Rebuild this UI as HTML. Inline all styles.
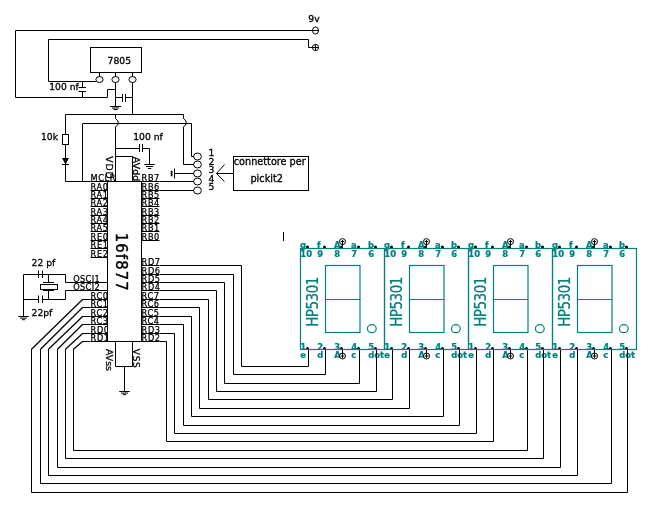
<!DOCTYPE html>
<html><head><meta charset="utf-8"><title>schema 16f877</title>
<style>
html,body{margin:0;padding:0;background:#fff}
svg{display:block;will-change:transform}
.w{fill:none;stroke:#000;stroke-width:1}
.d{stroke-width:1.25}
.wf{fill:#fff;stroke:#000;stroke-width:1}
.k{fill:#000;stroke:none}
.g{fill:none;stroke:#008080;stroke-width:1.2}
.t{font-family:"DejaVu Sans","Liberation Sans",sans-serif;font-size:9.2px;fill:#000;stroke:#000;stroke-width:.3px}
.p{font-size:8.2px;stroke-width:.25px;letter-spacing:.6px}
.gt{font-family:"DejaVu Sans","Liberation Sans",sans-serif;fill:#008080}
.gb{font-family:"DejaVu Sans Condensed","DejaVu Sans","Liberation Sans",sans-serif;font-size:9.4px;font-weight:bold;fill:#008080;stroke:#008080;stroke-width:.2px}
.c{font-family:"DejaVu Sans Condensed","DejaVu Sans","Liberation Sans",sans-serif;font-stretch:condensed}
</style></head><body>
<svg width="652" height="508" viewBox="0 0 652 508">
<rect x="0" y="0" width="652" height="508" fill="#fff"/>
<path class="w" d="M319 30.5 L15.5 30.5 L15.5 97.5 L107.5 97.5 L107.5 89.5 L115.5 89.5"/>
<ellipse class="w" cx="315.5" cy="30.5" rx="3" ry="3.6"/>
<path class="w" d="M318.5 47.5 L308.5 47.5 L308.5 39.5 L48.5 39.5 L48.5 81.5 L96 81.5"/>
<circle class="w" cx="315.5" cy="47.5" r="3.1"/>
<path class="w" d="M315.5 44.5 L315.5 50.5"/>
<text class="t" x="308.3" y="21.5">9v</text>
<rect class="w" x="90.5" y="47.5" width="51" height="25"/>
<text class="t" x="107.6" y="63.5">7805</text>
<path class="w" d="M99.5 72.5 L99.5 76.5"/>
<ellipse class="w" cx="99.5" cy="79.5" rx="3.6" ry="3"/>
<path class="w" d="M115.5 72.5 L115.5 76.5"/>
<ellipse class="w" cx="115.5" cy="79.5" rx="3.6" ry="3"/>
<path class="w" d="M132.5 72.5 L132.5 76.5"/>
<ellipse class="w" cx="132.5" cy="79.5" rx="3.6" ry="3"/>
<path class="w" d="M82.5 81.5 L82.5 87.5"/>
<path class="w" d="M78.5 87.5 L86 87.5"/>
<path class="w" d="M78.5 91.5 L86 91.5"/>
<path class="w" d="M82.5 91.5 L82.5 97.5"/>
<text class="t" x="49.2" y="89.9">100 nf</text>
<path class="w" d="M115.5 82.5 L115.5 106.5"/>
<path class="w" d="M110 106.5 L121 106.5"/>
<path class="w" d="M112 108 L119 108"/>
<path class="w" d="M113.5 109.5 L117.5 109.5"/>
<path class="w" d="M132.5 82.5 L132.5 114.5"/>
<path class="w" d="M115.5 97.5 L122.5 97.5"/>
<path class="w" d="M122.5 94 L122.5 102"/>
<path class="w" d="M125.5 94 L125.5 102"/>
<path class="w" d="M125.5 97.5 L132.5 97.5"/>
<path class="w" d="M90.5 181.5 L65.5 181.5 L65.5 114.5 L183.5 114.5 L183.5 118.5"/>
<path class="w" d="M183.5 118.5 Q187 121 186.3 123.5 Q186 125.5 183.5 126.8"/>
<path class="w" d="M183.5 126.8 L183.5 164.5 L194 164.5"/>
<path class="w" d="M82.5 181.5 L82.5 123.5 L191.5 123.5 L191.5 156.5 L194 156.5"/>
<path class="w" d="M115.5 114.5 L115.5 118.5"/>
<path class="w" d="M115.5 118.5 Q119 121 118.3 123.5 Q118 125.5 115.5 126.8"/>
<path class="w" d="M115.5 126.8 L115.5 181.5"/>
<rect class="wf" x="62.5" y="134.5" width="6" height="10"/>
<path class="k" d="M62 158 L69 158 L65.5 164.5 Z"/>
<path class="w" d="M62 164.5 L69 164.5"/>
<text class="t" x="41" y="139.8">10k</text>
<path class="w" d="M115.5 148.5 L139.5 148.5"/>
<path class="w" d="M139.5 144 L139.5 152"/>
<path class="w" d="M142.5 144 L142.5 152"/>
<path class="w" d="M142.5 148.5 L149.5 148.5 L149.5 164.5"/>
<path class="w" d="M144.25 164.5 L154.75 164.5"/>
<path class="w" d="M146 166.5 L153 166.5"/>
<path class="w" d="M147.8 168.5 L151.2 168.5"/>
<text class="t" x="133.2" y="140">100 nf</text>
<path class="w" d="M115.5 156.5 L132.5 156.5 L132.5 181.5"/>
<path class="w" d="M90.5 181.5 L107.5 181.5"/>
<text class="t p" x="90.6" y="180.88">MCLR</text>
<path class="w" d="M90.5 190.5 L107.5 190.5"/>
<text class="t p" x="90.6" y="189.88">RA0</text>
<path class="w" d="M90.5 198.5 L107.5 198.5"/>
<text class="t p" x="90.6" y="197.88">RA1</text>
<path class="w" d="M90.5 206.5 L107.5 206.5"/>
<text class="t p" x="90.6" y="205.88">RA2</text>
<path class="w" d="M90.5 215.5 L107.5 215.5"/>
<text class="t p" x="90.6" y="214.88">RA3</text>
<path class="w" d="M90.5 223.5 L107.5 223.5"/>
<text class="t p" x="90.6" y="222.88">RA4</text>
<path class="w" d="M90.5 231.5 L107.5 231.5"/>
<text class="t p" x="90.6" y="230.88">RA5</text>
<path class="w" d="M90.5 240.5 L107.5 240.5"/>
<text class="t p" x="90.6" y="239.88">RE0</text>
<path class="w" d="M90.5 248.5 L107.5 248.5"/>
<text class="t p" x="90.6" y="247.88">RE1</text>
<path class="w" d="M90.5 257.5 L107.5 257.5"/>
<text class="t p" x="90.6" y="256.88">RE2</text>
<path class="w" d="M90.5 282.5 L107.5 282.5"/>
<text class="t p" x="73.3" y="281.88" style="letter-spacing:.33px">OSCI1</text>
<path class="w" d="M90.5 290.5 L107.5 290.5"/>
<text class="t p" x="73.3" y="289.88" style="letter-spacing:.33px">OSCI2</text>
<path class="w" d="M90.5 299.5 L107.5 299.5"/>
<text class="t p" x="90.6" y="298.88">RC0</text>
<path class="w" d="M90.5 307.5 L107.5 307.5"/>
<text class="t p" x="90.6" y="306.88">RC1</text>
<path class="w" d="M90.5 316.5 L107.5 316.5"/>
<text class="t p" x="90.6" y="315.88">RC2</text>
<path class="w" d="M90.5 324.5 L107.5 324.5"/>
<text class="t p" x="90.6" y="323.88">RC3</text>
<path class="w" d="M90.5 333.5 L107.5 333.5"/>
<text class="t p" x="90.6" y="332.88">RD0</text>
<path class="w" d="M90.5 341.5 L107.5 341.5"/>
<text class="t p" x="90.6" y="340.88">RD1</text>
<path class="w" d="M141.5 181.5 L159.5 181.5"/>
<text class="t p" x="141.6" y="180.88">RB7</text>
<path class="w" d="M141.5 190.5 L159.5 190.5"/>
<text class="t p" x="141.6" y="189.88">RB6</text>
<path class="w" d="M141.5 198.5 L159.5 198.5"/>
<text class="t p" x="141.6" y="197.88">RB5</text>
<path class="w" d="M141.5 206.5 L159.5 206.5"/>
<text class="t p" x="141.6" y="205.88">RB4</text>
<path class="w" d="M141.5 215.5 L159.5 215.5"/>
<text class="t p" x="141.6" y="214.88">RB3</text>
<path class="w" d="M141.5 223.5 L159.5 223.5"/>
<text class="t p" x="141.6" y="222.88">RB2</text>
<path class="w" d="M141.5 231.5 L159.5 231.5"/>
<text class="t p" x="141.6" y="230.88">RB1</text>
<path class="w" d="M141.5 240.5 L159.5 240.5"/>
<text class="t p" x="141.6" y="239.88">RB0</text>
<path class="w" d="M141.5 265.5 L159.5 265.5"/>
<text class="t p" x="141.6" y="264.88">RD7</text>
<path class="w" d="M141.5 274.5 L159.5 274.5"/>
<text class="t p" x="141.6" y="273.88">RD6</text>
<path class="w" d="M141.5 282.5 L159.5 282.5"/>
<text class="t p" x="141.6" y="281.88">RD5</text>
<path class="w" d="M141.5 290.5 L159.5 290.5"/>
<text class="t p" x="141.6" y="289.88">RD4</text>
<path class="w" d="M141.5 299.5 L159.5 299.5"/>
<text class="t p" x="141.6" y="298.88">RC7</text>
<path class="w" d="M141.5 307.5 L159.5 307.5"/>
<text class="t p" x="141.6" y="306.88">RC6</text>
<path class="w" d="M141.5 316.5 L159.5 316.5"/>
<text class="t p" x="141.6" y="315.88">RC5</text>
<path class="w" d="M141.5 324.5 L159.5 324.5"/>
<text class="t p" x="141.6" y="323.88">RC4</text>
<path class="w" d="M141.5 333.5 L159.5 333.5"/>
<text class="t p" x="141.6" y="332.88">RD3</text>
<path class="w" d="M141.5 341.5 L159.5 341.5"/>
<text class="t p" x="141.6" y="340.88">RD2</text>
<rect class="wf" x="107.5" y="181.5" width="34.0" height="160.0"/>
<text class="t" style="font-size:9.3px;letter-spacing:.8px" transform="translate(106,156.3) rotate(90)">VDD</text>
<text class="t" style="font-size:9.2px;letter-spacing:.2px" transform="translate(133.4,156.8) rotate(90)">AVdd</text>
<text class="t" style="font-size:9.4px" transform="translate(105.5,349) rotate(90)">AVss</text>
<text class="t" style="font-size:9px;letter-spacing:.7px" transform="translate(133.2,348.8) rotate(90)">VSS</text>
<text class="t c" style="font-size:16.4px;letter-spacing:1.15px;stroke-width:.4px" transform="translate(115.8,232.8) rotate(90)">16f877</text>
<path class="w" d="M115.5 341.5 L115.5 366.5 L132.5 366.5 L132.5 341.5"/>
<path class="w" d="M124.5 366.5 L124.5 391.5"/>
<path class="w" d="M119.25 391.5 L129.75 391.5"/>
<path class="w" d="M121 393.1 L128 393.1"/>
<path class="w" d="M122.8 394.7 L126.2 394.7"/>
<path class="w" d="M159.5 181.5 L194 181.5"/>
<path class="w" d="M159.5 190.5 L194 190.5"/>
<ellipse class="w" cx="197.5" cy="156.5" rx="3.9" ry="3.5"/>
<ellipse class="w" cx="197.5" cy="164.5" rx="3.9" ry="3.5"/>
<ellipse class="w" cx="197.5" cy="173.5" rx="3.9" ry="3.5"/>
<ellipse class="w" cx="197.5" cy="181.5" rx="3.9" ry="3.5"/>
<ellipse class="w" cx="197.5" cy="190.5" rx="3.9" ry="3.5"/>
<text class="t" x="208.6" y="156.4">1</text>
<text class="t" x="208.6" y="164.6">2</text>
<text class="t" x="208.6" y="172.7">3</text>
<text class="t" x="208.6" y="181.8">4</text>
<text class="t" x="208.6" y="189.9">5</text>
<path class="w" d="M174.5 173.5 L194 173.5"/>
<path class="w" d="M174.5 168.5 L174.5 178.5"/>
<path class="w" style="stroke-width:1.7" d="M171.6 170.7 L171.6 176.3"/>
<path class="w" d="M224.5 164.5 L216.5 173.5 L224.5 181.5"/>
<path class="w" d="M216.5 173.5 L233.5 173.5"/>
<rect class="w" x="233.5" y="156.5" width="75" height="34"/>
<text class="t" x="233.8" y="165.2" style="font-size:9.7px">connettore per</text>
<text class="t" x="250.4" y="181.8" style="font-size:9.75px">pickit2</text>
<path class="w" d="M107.5 282.5 L65.5 282.5 L65.5 274.5 L23.5 274.5 L23.5 316.5"/>
<path class="w" d="M38.5 270.5 L38.5 278"/>
<path class="w" d="M42.5 270.5 L42.5 278"/>
<path class="w" d="M107.5 290.5 L65.5 290.5 L65.5 299.5 L42.5 299.5"/>
<path class="w" d="M38.5 299.5 L23.5 299.5"/>
<path class="w" d="M38.5 295.5 L38.5 303"/>
<path class="w" d="M42.5 295.5 L42.5 303"/>
<path class="w" d="M18.25 316.5 L28.75 316.5"/>
<path class="w" d="M20 318.1 L27 318.1"/>
<path class="w" d="M21.8 319.7 L25.2 319.7"/>
<path class="w" d="M48.5 274.5 L48.5 282.5"/>
<path class="w" d="M43 282.5 L54 282.5"/>
<rect class="w" x="40.5" y="284.5" width="17" height="5"/>
<path class="w" d="M43 290.5 L54 290.5"/>
<path class="w" d="M48.5 290.5 L48.5 299.5"/>
<text class="t" x="31.6" y="266.1">22 pf</text>
<text class="t" x="31.6" y="316">22pf</text>
<text class="gb" x="300.3" y="257">10</text>
<text class="gb" x="300" y="247.8">g</text>
<text class="gb" x="317.3" y="257">9</text>
<text class="gb" x="317" y="247.8">f</text>
<text class="gb" x="334.3" y="257">8</text>
<text class="gb" x="334" y="247.8">A</text>
<text class="gb" x="351.3" y="257">7</text>
<text class="gb" x="351" y="247.8">a</text>
<text class="gb" x="368.3" y="257">6</text>
<text class="gb" x="368" y="247.8">b</text>
<text class="gb" x="300.3" y="349.6">1</text>
<text class="gb" x="300.2" y="358.1">e</text>
<text class="gb" x="317.3" y="349.6">2</text>
<text class="gb" x="317.2" y="358.1">d</text>
<text class="gb" x="334.3" y="349.6">3</text>
<text class="gb" x="334.2" y="358.1">A</text>
<text class="gb" x="351.3" y="349.6">4</text>
<text class="gb" x="351.2" y="358.1">c</text>
<text class="gb" x="368.3" y="349.6">5</text>
<text class="gb" x="368.2" y="358.1">dot</text>
<text class="gb" x="384.3" y="257">10</text>
<text class="gb" x="384" y="247.8">g</text>
<text class="gb" x="401.3" y="257">9</text>
<text class="gb" x="401" y="247.8">f</text>
<text class="gb" x="418.3" y="257">8</text>
<text class="gb" x="418" y="247.8">A</text>
<text class="gb" x="435.3" y="257">7</text>
<text class="gb" x="435" y="247.8">a</text>
<text class="gb" x="451.3" y="257">6</text>
<text class="gb" x="451" y="247.8">b</text>
<text class="gb" x="384.3" y="349.6">1</text>
<text class="gb" x="384.2" y="358.1">e</text>
<text class="gb" x="401.3" y="349.6">2</text>
<text class="gb" x="401.2" y="358.1">d</text>
<text class="gb" x="418.3" y="349.6">3</text>
<text class="gb" x="418.2" y="358.1">A</text>
<text class="gb" x="435.3" y="349.6">4</text>
<text class="gb" x="435.2" y="358.1">c</text>
<text class="gb" x="451.3" y="349.6">5</text>
<text class="gb" x="451.2" y="358.1">dot</text>
<text class="gb" x="468.3" y="257">10</text>
<text class="gb" x="468" y="247.8">g</text>
<text class="gb" x="485.3" y="257">9</text>
<text class="gb" x="485" y="247.8">f</text>
<text class="gb" x="502.3" y="257">8</text>
<text class="gb" x="502" y="247.8">A</text>
<text class="gb" x="519.3" y="257">7</text>
<text class="gb" x="519" y="247.8">a</text>
<text class="gb" x="535.3" y="257">6</text>
<text class="gb" x="535" y="247.8">b</text>
<text class="gb" x="468.3" y="349.6">1</text>
<text class="gb" x="468.2" y="358.1">e</text>
<text class="gb" x="485.3" y="349.6">2</text>
<text class="gb" x="485.2" y="358.1">d</text>
<text class="gb" x="502.3" y="349.6">3</text>
<text class="gb" x="502.2" y="358.1">A</text>
<text class="gb" x="519.3" y="349.6">4</text>
<text class="gb" x="519.2" y="358.1">c</text>
<text class="gb" x="535.3" y="349.6">5</text>
<text class="gb" x="535.2" y="358.1">dot</text>
<text class="gb" x="552.3" y="257">10</text>
<text class="gb" x="552" y="247.8">g</text>
<text class="gb" x="569.3" y="257">9</text>
<text class="gb" x="569" y="247.8">f</text>
<text class="gb" x="586.3" y="257">8</text>
<text class="gb" x="586" y="247.8">A</text>
<text class="gb" x="603.3" y="257">7</text>
<text class="gb" x="603" y="247.8">a</text>
<text class="gb" x="619.3" y="257">6</text>
<text class="gb" x="619" y="247.8">b</text>
<text class="gb" x="552.3" y="349.6">1</text>
<text class="gb" x="552.2" y="358.1">e</text>
<text class="gb" x="569.3" y="349.6">2</text>
<text class="gb" x="569.2" y="358.1">d</text>
<text class="gb" x="586.3" y="349.6">3</text>
<text class="gb" x="586.2" y="358.1">A</text>
<text class="gb" x="603.3" y="349.6">4</text>
<text class="gb" x="603.2" y="358.1">c</text>
<text class="gb" x="619.3" y="349.6">5</text>
<text class="gb" x="619.2" y="358.1">dot</text>
<path class="w" d="M159.5 265.5 L241.5 265.5 L241.5 366.5 L308.5 366.5 L308.5 349.5"/>
<path class="w" d="M159.5 274.5 L233.5 274.5 L233.5 374.5 L325.5 374.5 L325.5 349.5"/>
<path class="w" d="M159.5 282.5 L224.5 282.5 L224.5 383.5 L359.5 383.5 L359.5 349.5"/>
<path class="w" d="M159.5 290.5 L216.5 290.5 L216.5 391.5 L376.5 391.5 L376.5 349.5"/>
<path class="w" d="M159.5 299.5 L208.5 299.5 L208.5 399.5 L392.5 399.5 L392.5 349.5"/>
<path class="w" d="M159.5 307.5 L199.5 307.5 L199.5 408.5 L409.5 408.5 L409.5 349.5"/>
<path class="w" d="M159.5 316.5 L191.5 316.5 L191.5 416.5 L443.5 416.5 L443.5 349.5"/>
<path class="w" d="M159.5 324.5 L183.5 324.5 L183.5 425.5 L459.5 425.5 L459.5 349.5"/>
<path class="w" d="M159.5 333.5 L174.5 333.5 L174.5 433.5 L476.5 433.5 L476.5 349.5"/>
<path class="w" d="M159.5 341.5 L166.5 341.5 L166.5 441.5 L493.5 441.5 L493.5 349.5"/>
<path class="w" d="M90.5 299.5 L82.5 299.5"/>
<path class="w d" d="M82.8 299.3 L31.5 349.3"/>
<path class="w" d="M31.5 349 L31.5 492.5 L627.5 492.5 L627.5 349.5"/>
<path class="w" d="M90.5 307.5 L82.5 307.5"/>
<path class="w d" d="M82.8 307.3 L40.5 349.3"/>
<path class="w" d="M40.5 349 L40.5 483.5 L611.5 483.5 L611.5 349.5"/>
<path class="w" d="M90.5 316.5 L82.5 316.5"/>
<path class="w d" d="M82.8 316.3 L48.5 349.3"/>
<path class="w" d="M48.5 349 L48.5 475.5 L577.5 475.5 L577.5 349.5"/>
<path class="w" d="M90.5 324.5 L82.5 324.5"/>
<path class="w d" d="M82.8 324.3 L57.5 349.3"/>
<path class="w" d="M57.5 349 L57.5 467.5 L560.5 467.5 L560.5 349.5"/>
<path class="w" d="M90.5 333.5 L82.5 333.5"/>
<path class="w d" d="M82.8 333.3 L65.5 349.3"/>
<path class="w" d="M65.5 349 L65.5 458.5 L543.5 458.5 L543.5 349.5"/>
<path class="w" d="M90.5 341.5 L82.5 341.5"/>
<path class="w d" d="M82.8 341.3 L73.5 349.3"/>
<path class="w" d="M73.5 349 L73.5 450.5 L527.5 450.5 L527.5 349.5"/>
<circle class="k" cx="307.5" cy="246.9" r="1.5"/>
<circle class="k" cx="324.5" cy="246.9" r="1.5"/>
<circle class="k" cx="341.5" cy="246.9" r="1.5"/>
<circle class="k" cx="358.5" cy="246.9" r="1.5"/>
<circle class="k" cx="375.5" cy="246.9" r="1.5"/>
<circle class="k" cx="307.5" cy="348.5" r="1.5"/>
<circle class="k" cx="324.5" cy="348.5" r="1.5"/>
<circle class="k" cx="341.5" cy="348.5" r="1.5"/>
<circle class="k" cx="358.5" cy="348.5" r="1.5"/>
<circle class="k" cx="375.5" cy="348.5" r="1.5"/>
<circle class="k" cx="391.5" cy="246.9" r="1.5"/>
<circle class="k" cx="408.5" cy="246.9" r="1.5"/>
<circle class="k" cx="425.5" cy="246.9" r="1.5"/>
<circle class="k" cx="442.5" cy="246.9" r="1.5"/>
<circle class="k" cx="458.5" cy="246.9" r="1.5"/>
<circle class="k" cx="391.5" cy="348.5" r="1.5"/>
<circle class="k" cx="408.5" cy="348.5" r="1.5"/>
<circle class="k" cx="425.5" cy="348.5" r="1.5"/>
<circle class="k" cx="442.5" cy="348.5" r="1.5"/>
<circle class="k" cx="458.5" cy="348.5" r="1.5"/>
<circle class="k" cx="475.5" cy="246.9" r="1.5"/>
<circle class="k" cx="492.5" cy="246.9" r="1.5"/>
<circle class="k" cx="509.5" cy="246.9" r="1.5"/>
<circle class="k" cx="526.5" cy="246.9" r="1.5"/>
<circle class="k" cx="542.5" cy="246.9" r="1.5"/>
<circle class="k" cx="475.5" cy="348.5" r="1.5"/>
<circle class="k" cx="492.5" cy="348.5" r="1.5"/>
<circle class="k" cx="509.5" cy="348.5" r="1.5"/>
<circle class="k" cx="526.5" cy="348.5" r="1.5"/>
<circle class="k" cx="542.5" cy="348.5" r="1.5"/>
<circle class="k" cx="559.5" cy="246.9" r="1.5"/>
<circle class="k" cx="576.5" cy="246.9" r="1.5"/>
<circle class="k" cx="593.5" cy="246.9" r="1.5"/>
<circle class="k" cx="610.5" cy="246.9" r="1.5"/>
<circle class="k" cx="626.5" cy="246.9" r="1.5"/>
<circle class="k" cx="559.5" cy="348.5" r="1.5"/>
<circle class="k" cx="576.5" cy="348.5" r="1.5"/>
<circle class="k" cx="593.5" cy="348.5" r="1.5"/>
<circle class="k" cx="610.5" cy="348.5" r="1.5"/>
<circle class="k" cx="626.5" cy="348.5" r="1.5"/>
<rect class="g" x="300.5" y="248.5" width="84" height="101"/>
<rect class="g" x="325.5" y="265.5" width="34.5" height="67"/>
<path class="g" d="M325.5 299.5 L360 299.5"/>
<ellipse class="g" cx="371.8" cy="328.7" rx="4.4" ry="4"/>
<text class="gt c" style="font-size:15px;letter-spacing:-.5px;stroke:#008080;stroke-width:.25px" transform="translate(318.4,326.8) rotate(-90)">HP5301</text>
<circle class="wf" cx="342.5" cy="241.6" r="3"/>
<path class="w" d="M342.5 240 L342.5 246"/>
<path class="w" d="M340.7 241.5 L344.3 241.5"/>
<circle class="wf" cx="342.5" cy="356" r="3"/>
<path class="w" d="M342.5 350 L342.5 358"/>
<path class="w" d="M340.7 356 L344.3 356"/>
<rect class="g" x="384.5" y="248.5" width="84" height="101"/>
<rect class="g" x="409.5" y="265.5" width="34.5" height="67"/>
<path class="g" d="M409.5 299.5 L444 299.5"/>
<ellipse class="g" cx="455.8" cy="328.7" rx="4.4" ry="4"/>
<text class="gt c" style="font-size:15px;letter-spacing:-.5px;stroke:#008080;stroke-width:.25px" transform="translate(402.4,326.8) rotate(-90)">HP5301</text>
<circle class="wf" cx="426.5" cy="241.6" r="3"/>
<path class="w" d="M426.5 240 L426.5 246"/>
<path class="w" d="M424.7 241.5 L428.3 241.5"/>
<circle class="wf" cx="426.5" cy="356" r="3"/>
<path class="w" d="M426.5 350 L426.5 358"/>
<path class="w" d="M424.7 356 L428.3 356"/>
<rect class="g" x="468.5" y="248.5" width="84" height="101"/>
<rect class="g" x="493.5" y="265.5" width="34.5" height="67"/>
<path class="g" d="M493.5 299.5 L528 299.5"/>
<ellipse class="g" cx="539.8" cy="328.7" rx="4.4" ry="4"/>
<text class="gt c" style="font-size:15px;letter-spacing:-.5px;stroke:#008080;stroke-width:.25px" transform="translate(486.4,326.8) rotate(-90)">HP5301</text>
<circle class="wf" cx="510.5" cy="241.6" r="3"/>
<path class="w" d="M510.5 240 L510.5 246"/>
<path class="w" d="M508.7 241.5 L512.3 241.5"/>
<circle class="wf" cx="510.5" cy="356" r="3"/>
<path class="w" d="M510.5 350 L510.5 358"/>
<path class="w" d="M508.7 356 L512.3 356"/>
<rect class="g" x="552.5" y="248.5" width="84" height="101"/>
<rect class="g" x="577.5" y="265.5" width="34.5" height="67"/>
<path class="g" d="M577.5 299.5 L612 299.5"/>
<ellipse class="g" cx="623.8" cy="328.7" rx="4.4" ry="4"/>
<text class="gt c" style="font-size:15px;letter-spacing:-.5px;stroke:#008080;stroke-width:.25px" transform="translate(570.4,326.8) rotate(-90)">HP5301</text>
<circle class="wf" cx="594.5" cy="241.6" r="3"/>
<path class="w" d="M594.5 240 L594.5 246"/>
<path class="w" d="M592.7 241.5 L596.3 241.5"/>
<circle class="wf" cx="594.5" cy="356" r="3"/>
<path class="w" d="M594.5 350 L594.5 358"/>
<path class="w" d="M592.7 356 L596.3 356"/>
<path class="w" d="M283.5 232 L283.5 241"/>
</svg>
</body></html>
